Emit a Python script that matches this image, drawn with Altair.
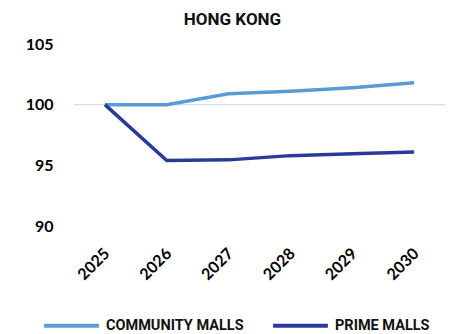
import altair as alt
import pandas as pd

years = ["2025", "2026", "2027", "2028", "2029", "2030"]
community = [100.0, 100.0, 100.9, 101.1, 101.4, 101.8]
prime = [100.0, 95.4, 95.45, 95.8, 95.95, 96.1]
series_names = ["COMMUNITY MALLS", "PRIME MALLS"]
colors = ["#5B9BD5", "#2B3A98"]

rows = []
for y, v in zip(years, community):
    rows.append({"year": y, "value": v, "series": series_names[0]})
for y, v in zip(years, prime):
    rows.append({"year": y, "value": v, "series": series_names[1]})
df = pd.DataFrame(rows)

COND = "Roboto"

lines = alt.Chart(df).mark_line(strokeWidth=3.5).encode(
    x=alt.X("year:O", title=None, scale=alt.Scale(padding=0.5),
            axis=alt.Axis(labelAngle=-45, labelFont="Lato", labelFontWeight="bold",
                          labelFontSize=16, labelColor="#000", labelPadding=19, labelOffset=-4,
                          domain=False, ticks=False, grid=False)),
    y=alt.Y("value:Q", title=None, scale=alt.Scale(domain=[90, 105], nice=False, zero=False),
            axis=alt.Axis(values=[90, 95, 100, 105], labelFont="Lato", labelFontWeight="bold",
                          labelFontSize=16, labelColor="#000", labelPadding=21,
                          domain=False, ticks=False, grid=False)),
    color=alt.Color("series:N", scale=alt.Scale(domain=series_names, range=colors),
                    legend=alt.Legend(title=None, orient="none", direction="horizontal",
                                      legendX=-32, legendY=252,
                                      symbolType="stroke", symbolSize=3000,
                                      symbolStrokeWidth=4, labelFont=COND,
                                      labelFontWeight="bold", labelFontSize=14.5,
                                      labelLimit=300,
                                      labelColor="#111", labelOffset=5, columnPadding=21)),
)

rule = alt.Chart(pd.DataFrame({"v": [100]})).mark_rule(color="#C9D3F2", strokeWidth=1).encode(
    y="v:Q"
)

chart = alt.layer(rule, lines).properties(
    width=371, height=182,
    autosize=alt.AutoSizeParams(type="none"),
    padding={"left": 74, "top": 44, "right": 19, "bottom": 108},
    title=alt.TitleParams("HONG KONG", font=COND, fontWeight="bold",
                          fontSize=17, color="#111", anchor="middle", frame="group",
                          dx=-27, offset=7),
).configure_view(stroke=None)

chart.save("out.html", embed_options={"renderer": "svg", "actions": False})
